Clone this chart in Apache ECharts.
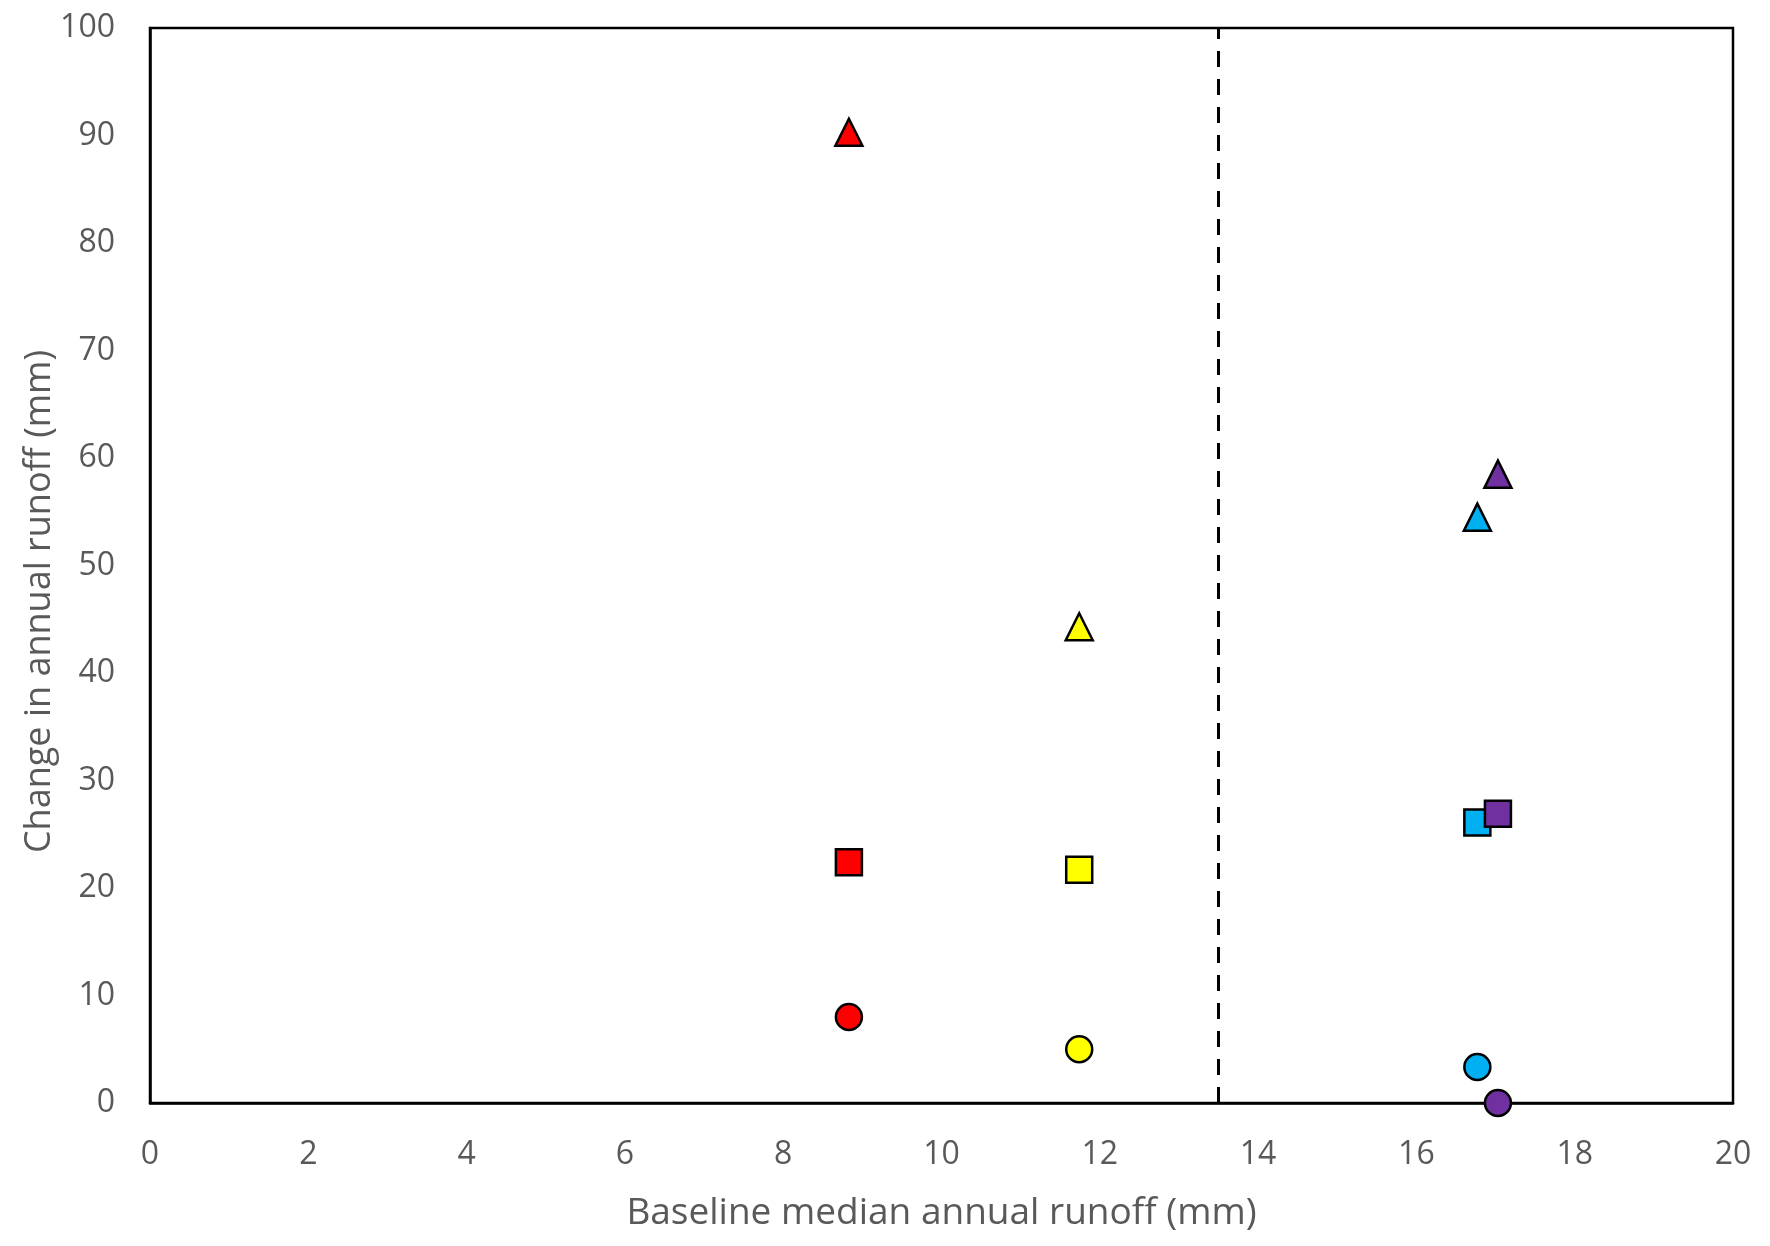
<!DOCTYPE html>
<html>
<head>
<meta charset="utf-8">
<script src="https://cdn.jsdelivr.net/npm/echarts@6/dist/echarts.min.js"></script>
<style>
html,body{margin:0;padding:0;background:#fff;}
#chart{width:1770px;height:1246px;}
</style>
</head>
<body>
<div id="chart"></div>
<script>
// Data
const siteColors = ['#FF0000', '#FFFF00', '#00B0F0', '#7030A0'];
const baselineRunoff = [8.83, 11.74, 16.77, 17.03];
const circleValues = [8.0, 5.0, 3.35, 0.0];
const squareValues = [22.4, 21.7, 26.1, 26.9];
const triangleValues = [90.3, 44.3, 54.5, 58.5];
const thresholdX = 13.5;
const xTicks = [0, 2, 4, 6, 8, 10, 12, 14, 16, 18, 20];
const yTicks = [0, 10, 20, 30, 40, 50, 60, 70, 80, 90, 100];
const xTitle = 'Baseline median annual runoff (mm)';
const yTitle = 'Change in annual runoff (mm)';

const FONT = 'Open Sans';
const GREY = '#595959';

function pts(vals) {
  return vals.map((v, i) => ({
    value: [baselineRunoff[i], v],
    itemStyle: { color: siteColors[i] }
  }));
}

function scatter(name, symbol, size, vals, z) {
  return {
    name: name,
    type: 'scatter',
    symbol: symbol,
    symbolSize: size,
    clip: false,
    z: z,
    itemStyle: { borderColor: '#000', borderWidth: 2.5, opacity: 1 },
    data: pts(vals)
  };
}

const chart = echarts.init(document.getElementById('chart'), null, { renderer: 'canvas' });

const series = [
  scatter('Circle', 'circle', 26, circleValues, 5),
  scatter('Square', 'rect', 26, squareValues, 5),
  scatter('Triangle', 'triangle', 27, triangleValues, 5)
];
series[0].markLine = {
  silent: true,
  symbol: ['none', 'none'],
  label: { show: false },
  lineStyle: { color: '#000', width: 3, type: [16, 12] },
  data: [{ xAxis: thresholdX }]
};

chart.setOption({
  animation: false,
  backgroundColor: '#fff',
  grid: {
    left: 150, right: 37, top: 28, bottom: 143,
    show: true, borderColor: '#000', borderWidth: 2.5, backgroundColor: 'transparent'
  },
  xAxis: {
    type: 'value',
    min: xTicks[0], max: xTicks[xTicks.length - 1], interval: xTicks[1] - xTicks[0],
    name: xTitle,
    nameLocation: 'middle',
    nameGap: 92,
    nameMoveOverlap: false,
    nameTextStyle: { fontFamily: FONT, fontSize: 37, color: GREY },
    axisLine: { show: true, onZero: false, lineStyle: { color: '#000', width: 2.5 } },
    axisTick: { show: false },
    splitLine: { show: false },
    axisLabel: { fontFamily: FONT, fontSize: 32, color: GREY, margin: 36 }
  },
  yAxis: {
    type: 'value',
    min: yTicks[0], max: yTicks[yTicks.length - 1], interval: yTicks[1] - yTicks[0],
    name: yTitle,
    nameLocation: 'middle',
    nameGap: 92,
    nameMoveOverlap: false,
    nameRotate: 90,
    nameTextStyle: { fontFamily: FONT, fontSize: 36, color: GREY, padding: [0, 72, 0, 0] },
    axisLine: { show: true, onZero: false, lineStyle: { color: '#000', width: 2.5 } },
    axisTick: { show: false },
    splitLine: { show: false },
    axisLabel: { fontFamily: FONT, fontSize: 32, color: GREY, margin: 35 }
  },
  series: series
});
</script>
</body>
</html>
